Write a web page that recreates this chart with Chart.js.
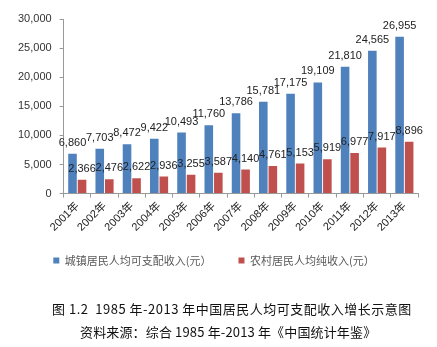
<!DOCTYPE html>
<html><head><meta charset="utf-8">
<script src="https://cdn.jsdelivr.net/npm/chart.js@4/dist/chart.umd.min.js"></script>
<style>
html,body{margin:0;padding:0;background:#fff;}
#wrap{position:relative;width:437px;height:347px;}
canvas{position:absolute;left:0;top:0;}
.cap{position:absolute;font-family:"Noto Sans CJK SC";color:#111;white-space:pre;line-height:1;}
</style></head><body>
<div id="wrap">
<canvas id="c" width="437" height="347"></canvas>
<div class="cap" id="cap1" style="left:52px;top:302px;font-size:13px;letter-spacing:0.5px;">图 1.2  1985 年-2013 年中国居民人均可支配收入增长示意图</div>
<div class="cap" id="cap2" style="left:80px;top:325px;font-size:13px;letter-spacing:0.15px;">资料来源：综合 1985 年-2013 年《中国统计年鉴》</div>
</div>
<script>
const categories = ["2001年","2002年","2003年","2004年","2005年","2006年","2007年","2008年","2009年","2010年","2011年","2012年","2013年"];
const urbanIncome = [6860,7703,8472,9422,10493,11760,13786,15781,17175,19109,21810,24565,26955];
const ruralIncome = [2366,2476,2622,2936,3255,3587,4140,4761,5153,5919,6977,7917,8896];
const seriesNames = ["城镇居民人均可支配收入(元）","农村居民人均纯收入(元）"];
const yTicks = [0,5000,10000,15000,20000,25000,30000];

const labelPlugin = {
  id: 'valLabels',
  afterDatasetsDraw(chart) {
    const ctx = chart.ctx;
    ctx.save();
    ctx.font = '11px "Liberation Sans"';
    ctx.fillStyle = '#222';
    ctx.textAlign = 'center';
    ctx.textBaseline = 'middle';
    chart.data.datasets.forEach((ds, i) => {
      const meta = chart.getDatasetMeta(i);
      meta.data.forEach((el, j) => {
        ctx.fillText(ds.data[j].toLocaleString('en-US'), el.x, el.y - 11);
      });
    });
    ctx.restore();
  }
};

new Chart(document.getElementById('c'), {
  type: 'bar',
  data: {
    labels: categories,
    datasets: [
      { label: seriesNames[0], data: urbanIncome, backgroundColor: '#4F81BD', categoryPercentage: 0.7, barPercentage: 0.9 },
      { label: seriesNames[1], data: ruralIncome, backgroundColor: '#C0504D', categoryPercentage: 0.7, barPercentage: 0.9 }
    ]
  },
  options: {
    responsive: false,
    animation: false,
    layout: { padding: { left: 10, right: 19, top: 19, bottom: 71 } },
    plugins: {
      legend: {
        position: 'bottom',
        labels: {
          boxWidth: 6, boxHeight: 6, padding: 19,
          font: { family: '"Noto Sans CJK SC"', size: 11 },
          color: '#595959',
          generateLabels(chart) {
            const items = Chart.defaults.plugins.legend.labels.generateLabels(chart);
            items[0].text = items[0].text + '\u3000 ';
            return items;
          }
        }
      },
      tooltip: { enabled: false }
    },
    scales: {
      x: {
        grid: { display: true, drawOnChartArea: false, tickLength: 4, color: '#999', offset: true },
        border: { color: '#999' },
        ticks: {
          maxRotation: 45, minRotation: 45, padding: 2,
          font: { family: '"Liberation Sans","Noto Sans CJK SC"', size: 11 },
          color: '#222'
        }
      },
      y: {
        min: 0, max: 30000,
        afterBuildTicks(scale) { scale.ticks = yTicks.map(v => ({ value: v })); },
        grid: { display: true, drawOnChartArea: false, tickLength: 4, color: '#999' },
        border: { color: '#999' },
        ticks: {
          padding: 8,
          font: { family: '"Liberation Sans"', size: 11 },
          color: '#333',
          callback: v => v.toLocaleString('en-US')
        }
      }
    }
  },
  plugins: [labelPlugin]
});
</script>
</body></html>
